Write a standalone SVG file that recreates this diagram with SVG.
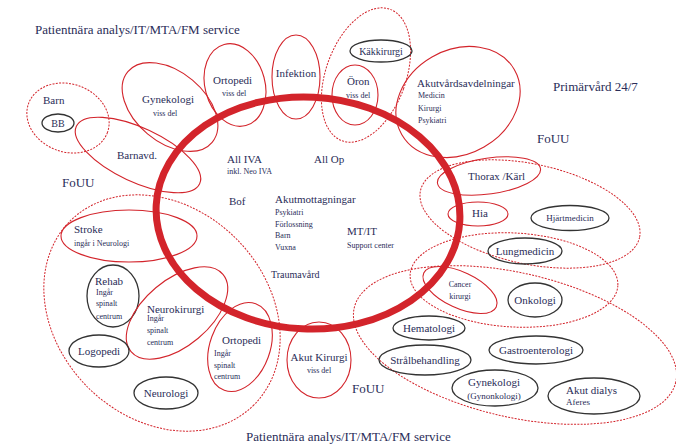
<svg xmlns="http://www.w3.org/2000/svg" width="676" height="445" viewBox="0 0 676 445">
<style>
text{font-family:"Liberation Serif","DejaVu Serif",serif;fill:#2a2d58}
.t13{font-size:13px}.t12{font-size:12px}.t11{font-size:11px}.t10{font-size:10px}.t9{font-size:9px}.t8{font-size:8px}
.red{fill:none;stroke:#d3242b;stroke-width:1.1}
.dash{fill:none;stroke:#d3242b;stroke-width:1;stroke-dasharray:2 1.3}
.blk{fill:none;stroke:#333;stroke-width:1.3}
.mid{text-anchor:middle}
</style>
<rect width="676" height="445" fill="#fff"/>
<g id="labels">
<text class="t13" x="35" y="34">Patientnära analys/IT/MTA/FM service</text>
<text class="t13" x="246" y="441">Patientnära analys/IT/MTA/FM service</text>
<text class="t13" x="553" y="91">Primärvård 24/7</text>
<text class="t13" x="537" y="143">FoUU</text>
<text class="t13" x="62" y="187">FoUU</text>
<text class="t13" x="352" y="393">FoUU</text>
</g>
<g id="regions">
<ellipse id="barn-region" class="dash" cx="68" cy="118" rx="42" ry="34" transform="rotate(20 68 118)"/>
<ellipse id="oron-region" class="dash" cx="366" cy="75" rx="40" ry="70" transform="rotate(20 366 75)"/>
<ellipse id="left-region" class="dash" cx="162" cy="313" rx="130" ry="105" transform="rotate(45 162 313)"/>
<ellipse id="heart-region" class="dash" cx="530" cy="214" rx="112" ry="50" transform="rotate(12 530 214)"/>
<ellipse id="lung-region" class="dash" cx="514" cy="280" rx="104" ry="47" transform="rotate(3 514 280)"/>
<ellipse id="onc-region" class="dash" cx="515" cy="345" rx="165" ry="72" transform="rotate(13 515 345)"/>
</g>
<g id="center">
<ellipse cx="308" cy="213" rx="152" ry="116" transform="rotate(3 308 213)" fill="none" stroke="#d3242b" stroke-width="7"/>
<text class="t11" x="227" y="163">All IVA</text>
<text class="t8" x="227" y="174">inkl. Neo IVA</text>
<text class="t11" x="314" y="163">All Op</text>
<text class="t11" x="229" y="205">Bof</text>
<text class="t11" x="275" y="203">Akutmottagningar</text>
<text class="t8" x="275" y="215">Psykiatri</text>
<text class="t8" x="275" y="227">Förlossning</text>
<text class="t8" x="275" y="238">Barn</text>
<text class="t8" x="275" y="250">Vuxna</text>
<text class="t11" x="347" y="235">MT/IT</text>
<text class="t8" x="347" y="248">Support center</text>
<text class="t10" x="271" y="278">Traumavård</text>
</g>
<g id="barn">
<text class="t11" x="43" y="104">Barn</text>
</g>
<g id="bb"><ellipse class="blk" cx="58" cy="123" rx="16" ry="9"/><text class="t10 mid" x="58" y="127">BB</text></g>
<g id="barnavd"><ellipse class="red" cx="138" cy="155" rx="68" ry="27" transform="rotate(25 138 155)"/><text class="t11" x="117" y="159">Barnavd.</text></g>
<g id="gynekologi-top"><ellipse class="red" cx="170" cy="107" rx="55" ry="35" transform="rotate(40 170 107)"/><text class="t11" x="142" y="103">Gynekologi</text><text class="t8" x="153" y="116">viss del</text></g>
<g id="ortopedi-top"><ellipse class="red" cx="235" cy="85" rx="30" ry="42" transform="rotate(-15 235 85)"/><text class="t11" x="213" y="84">Ortopedi</text><text class="t8" x="222" y="96">viss del</text></g>
<g id="infektion"><ellipse class="red" cx="296" cy="77" rx="24" ry="42"/><text class="t11 mid" x="296" y="77">Infektion</text></g>
<g id="oron"><ellipse class="red" cx="355" cy="95" rx="23" ry="30"/><text class="t11" x="347" y="85">Öron</text><text class="t8" x="346" y="98">viss del</text></g>
<g id="kakkirurgi"><ellipse class="blk" cx="381" cy="51" rx="31" ry="11"/><text class="t10 mid" x="381" y="55">Käkkirurgi</text></g>
<g id="akutvard"><ellipse class="red" cx="458" cy="102" rx="65" ry="52" transform="rotate(-30 458 102)"/><text class="t11" x="417" y="87">Akutvårdsavdelningar</text><text class="t8" x="418" y="98">Medicin</text><text class="t8" x="418" y="111">Kirurgi</text><text class="t8" x="418" y="123">Psykiatri</text></g>
<g id="thorax"><ellipse class="red" cx="489" cy="176" rx="52" ry="18" transform="rotate(-8 489 176)"/><text class="t11" x="468" y="180">Thorax /Kärl</text></g>
<g id="hia"><ellipse class="red" cx="478" cy="214" rx="30" ry="12"/><text class="t11 mid" x="480" y="217">Hia</text></g>
<g id="hjartmedicin"><ellipse class="blk" cx="570" cy="218" rx="39" ry="12.5"/><text class="t9 mid" x="570" y="221">Hjärtmedicin</text></g>
<g id="lungmedicin"><ellipse class="blk" cx="525" cy="251" rx="37" ry="13"/><text class="t11 mid" x="525" y="255">Lungmedicin</text></g>
<g id="cancer"><ellipse class="red" cx="460" cy="290" rx="40" ry="18" transform="rotate(25 460 290)"/><text class="t8 mid" x="460" y="287">Cancer</text><text class="t8 mid" x="460" y="299">kirurgi</text></g>
<g id="onkologi"><ellipse class="blk" cx="535" cy="300" rx="27" ry="17"/><text class="t11 mid" x="535" y="304">Onkologi</text></g>
<g id="hematologi"><ellipse class="blk" cx="429" cy="328" rx="36" ry="12"/><text class="t11 mid" x="429" y="332">Hematologi</text></g>
<g id="stralbehandling"><ellipse class="blk" cx="425" cy="360" rx="46" ry="15"/><text class="t11 mid" x="425" y="364">Strålbehandling</text></g>
<g id="gastro"><ellipse class="blk" cx="536" cy="350" rx="47" ry="14"/><text class="t11 mid" x="536" y="354">Gastroenterologi</text></g>
<g id="gynekologi-bottom"><ellipse class="blk" cx="495" cy="388" rx="43" ry="18"/><text class="t11 mid" x="494" y="386">Gynekologi</text><text class="t9 mid" x="494" y="399">(Gynonkologi)</text></g>
<g id="akutdialys"><ellipse class="blk" cx="594" cy="396" rx="46" ry="18"/><text class="t11" x="566" y="394">Akut dialys</text><text class="t9" x="566" y="405">Aferes</text></g>
<g id="stroke"><ellipse class="red" cx="129" cy="236" rx="68" ry="26"/><text class="t11" x="74" y="233">Stroke</text><text class="t8" x="74" y="246">ingår i Neurologi</text></g>
<g id="rehab"><ellipse class="blk" cx="113" cy="296" rx="26" ry="31"/><text class="t11" x="95" y="285">Rehab</text><text class="t8" x="96" y="295">Ingår</text><text class="t8" x="96" y="306">spinalt</text><text class="t8" x="96" y="319">centrum</text></g>
<g id="neurokirurgi"><ellipse class="red" cx="177" cy="313" rx="60" ry="33" transform="rotate(-40 177 313)"/><text class="t11" x="147" y="313">Neurokirurgi</text><text class="t8" x="147" y="321">Ingår</text><text class="t8" x="147" y="333">spinalt</text><text class="t8" x="147" y="345">centrum</text></g>
<g id="ortopedi-bottom"><ellipse class="red" cx="240" cy="347" rx="30" ry="46" transform="rotate(20 240 347)"/><text class="t11" x="222" y="344">Ortopedi</text><text class="t8" x="214" y="356">Ingår</text><text class="t8" x="214" y="368">spinalt</text><text class="t8" x="214" y="379">centrum</text></g>
<g id="logopedi"><ellipse class="blk" cx="99" cy="351" rx="30" ry="16"/><text class="t11 mid" x="99" y="355">Logopedi</text></g>
<g id="neurologi"><ellipse class="blk" cx="166" cy="393" rx="32" ry="16"/><text class="t11 mid" x="166" y="397">Neurologi</text></g>
<g id="akutkirurgi"><ellipse class="red" cx="319" cy="360" rx="32" ry="38"/><text class="t11 mid" x="319" y="361">Akut Kirurgi</text><text class="t8 mid" x="319" y="373">viss del</text></g>
</svg>
